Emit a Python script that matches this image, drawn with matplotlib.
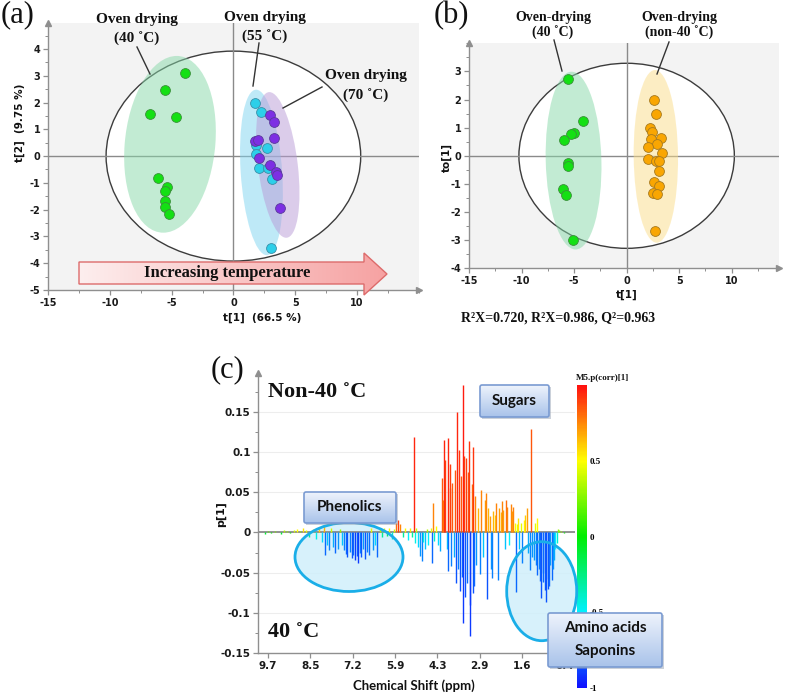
import numpy as np
import matplotlib
matplotlib.use("Agg")
import matplotlib.pyplot as plt
from matplotlib.patches import Ellipse, Circle, Polygon, FancyBboxPatch, Rectangle
from matplotlib.transforms import Affine2D
from matplotlib.colors import LinearSegmentedColormap, Normalize
from matplotlib.cm import ScalarMappable
from matplotlib.ticker import MultipleLocator, NullLocator

plt.rcParams['font.family'] = ['DejaVu Sans']
plt.rcParams['axes.unicode_minus'] = False

# ---------------- data: panel (a) PCA scores ----------------
t1_40 = [-3.88, -5.57, -6.75, -4.65, -6.12, -5.35, -5.55, -5.52, -5.50, -5.20]
t2_40 = [3.12, 2.45, 1.57, 1.47, -0.80, -1.15, -1.31, -1.66, -1.89, -2.18]
t1_55 = [1.75, 2.22, 1.81, 2.68, 1.86, 2.05, 2.81, 3.14, 3.07]
t2_55 = [2.00, 1.64, 0.40, 0.31, 0.06, -0.44, -0.44, -0.87, -3.42]
t1_70 = [2.97, 3.32, 1.73, 2.00, 3.30, 2.05, 2.95, 3.45, 3.50, 3.80]
t2_70 = [1.53, 1.29, 0.55, 0.61, 0.66, -0.06, -0.35, -0.61, -0.72, -1.93]
a_xticks = [-15, -10, -5, 0, 5, 10]
a_yticks = [-5, -4, -3, -2, -1, 0, 1, 2, 3, 4]

# ---------------- data: panel (b) OPLS-DA scores ----------------
b_t1_40 = [-5.56, -4.16, -5.02, -5.27, -5.94, -5.59, -5.56, -6.03, -5.78, -5.11]
b_to_40 = [2.74, 1.22, 0.82, 0.78, 0.56, -0.25, -0.36, -1.17, -1.41, -2.98]
b_t1_non40 = [2.57, 2.83, 2.22, 2.41, 2.29, 3.30, 2.86, 2.00, 3.40, 2.03,
              2.76, 3.11, 3.08, 2.60, 3.11, 2.54, 2.89, 2.70]
b_to_non40 = [2.00, 1.48, 1.00, 0.85, 0.60, 0.62, 0.43, 0.32, 0.09, -0.11,
              -0.17, -0.17, -0.55, -0.94, -1.06, -1.33, -1.35, -2.66]
b_xticks = [-15, -10, -5, 0, 5, 10]
b_yticks = [-4, -3, -2, -1, 0, 1, 2, 3]

# ---------------- data: panel (c) loading line p[1] ----------------
ppm_arom = [9.88, 9.79, 9.70, 9.61, 9.52, 9.43, 9.34, 9.25, 9.16, 9.07,
            8.98, 8.89, 8.80, 8.71, 8.62, 8.53, 8.43, 8.33, 8.24, 8.16,
            8.09, 8.06, 8.00, 7.93, 7.86, 7.81, 7.75, 7.67, 7.60, 7.53,
            7.46, 7.41, 7.37, 7.30, 7.24, 7.19, 7.14, 7.08, 7.03, 6.98,
            6.94, 6.88, 6.83, 6.77, 6.70, 6.64, 6.57, 6.51, 6.45, 6.38,
            6.30, 6.23, 6.16, 6.09, 6.01, 5.94, 5.86, 5.79, 5.72, 5.62,
            5.53, 5.43, 5.35]
p_arom = [0.001, -0.002, 0.002, -0.001, 0.002, 0.001, -0.002, 0.003, 0.002, -0.001,
          0.003, 0.004, 0.002, 0.005, 0.003, -0.005, 0.004, -0.008, 0.006, -0.012,
          0.008, -0.028, -0.015, -0.022, 0.005, -0.018, -0.026, -0.020, 0.004, -0.016,
          -0.022, -0.027, -0.030, -0.024, -0.032, -0.028, -0.034, -0.029, -0.038, -0.026,
          -0.030, -0.021, -0.033, -0.024, -0.028, 0.006, -0.022, -0.015, -0.030, 0.004,
          -0.006, 0.005, -0.004, 0.006, -0.008, 0.004, 0.012, 0.016, 0.010, -0.005,
          0.005, -0.009, 0.006]
corr_arom = [0.15, -0.1, 0.2, 0.0, 0.25, 0.1, -0.1, 0.35, 0.3, 0.0,
             0.4, 0.5, 0.3, 0.55, 0.45, -0.3, 0.5, -0.45, 0.6, -0.55,
             0.65, -0.8, -0.6, -0.75, 0.4, -0.65, -0.8, -0.7, 0.3, -0.6,
             -0.75, -0.8, -0.85, -0.75, -0.85, -0.8, -0.9, -0.8, -0.9, -0.75,
             -0.85, -0.7, -0.85, -0.75, -0.8, 0.45, -0.7, -0.55, -0.8, 0.35,
             -0.3, 0.45, -0.2, 0.5, -0.4, 0.4, 0.8, 0.9, 0.75, -0.3,
             0.5, -0.5, 0.55]

ppm_sugar = [5.26, 5.19, 5.15, 5.11, 5.05, 4.96, 4.89, 4.83, 4.77, 4.71,
             4.64, 4.56, 4.52, 4.48, 4.42, 4.35, 4.28, 4.22, 4.16, 4.12,
             4.08, 4.06, 4.00, 3.96, 3.94, 3.90, 3.87, 3.84, 3.81, 3.76,
             3.72, 3.70, 3.65, 3.62, 3.58, 3.55, 3.52, 3.49, 3.47, 3.45,
             3.41, 3.38, 3.36, 3.32, 3.29, 3.25, 3.23, 3.21, 3.16, 3.13,
             3.11, 3.09, 3.05, 3.01, 2.95, 2.89, 2.85, 2.80, 2.75, 2.70,
             2.69, 2.64]
p_sugar = [-0.006, 0.118, -0.013, 0.005, -0.018, -0.029, -0.035, -0.012, -0.021, 0.004,
           -0.015, 0.006, -0.038, 0.036, -0.010, 0.008, -0.016, -0.023, 0.068, 0.040,
           0.115, 0.090, -0.020, -0.048, 0.117, 0.055, 0.085, -0.042, 0.062, -0.030,
           0.078, -0.063, 0.150, -0.045, 0.102, -0.073, 0.070, -0.055, 0.183, -0.112,
           0.095, -0.080, 0.093, -0.063, 0.075, 0.113, -0.090, -0.128, 0.060, -0.075,
           0.106, -0.067, 0.045, -0.040, 0.030, -0.051, 0.053, -0.030, 0.040, 0.049,
           -0.083, 0.030]
corr_sugar = [-0.3, 0.95, -0.45, 0.4, -0.55, -0.7, -0.75, -0.45, -0.6, 0.35,
              -0.5, 0.45, -0.8, 0.75, -0.4, 0.5, -0.55, -0.65, 0.85, 0.75,
              0.95, 0.9, -0.6, -0.8, 0.95, 0.8, 0.9, -0.75, 0.85, -0.65,
              0.85, -0.85, 0.95, -0.75, 0.92, -0.85, 0.85, -0.8, 0.97, -0.9,
              0.9, -0.85, 0.9, -0.8, 0.85, 0.92, -0.85, -0.9, 0.8, -0.85,
              0.92, -0.8, 0.75, -0.7, 0.65, -0.75, 0.75, -0.6, 0.7, 0.75,
              -0.85, 0.65]

ppm_aliph = [2.58, 2.54, 2.51, 2.48, 2.44, 2.40, 2.35, 2.31, 2.26, 2.23,
             2.19, 2.14, 2.10, 2.05, 2.00, 1.95, 1.91, 1.87, 1.83, 1.79,
             1.75, 1.72, 1.68, 1.64, 1.61, 1.56, 1.52, 1.47, 1.43, 1.39,
             1.35, 1.31, 1.27, 1.24, 1.21, 1.18, 1.17, 1.12, 1.09, 1.06,
             1.02, 1.00, 0.96, 0.93, 0.91, 0.87, 0.83, 0.80, 0.76, 0.73,
             0.70, 0.66, 0.62, 0.58, 0.54, 0.50, 0.45, 0.42]
p_aliph = [0.020, -0.045, -0.057, 0.027, 0.022, 0.036, -0.059, 0.030, 0.025, 0.039,
           0.028, -0.020, 0.040, 0.032, -0.015, 0.035, 0.027, 0.032, 0.012, -0.074,
           0.010, 0.018, -0.020, 0.012, -0.038, 0.015, 0.022, 0.030, -0.025, -0.046,
           0.128, -0.030, -0.034, 0.012, -0.040, 0.018, -0.053, -0.045, -0.060, -0.081,
           -0.050, -0.062, -0.072, -0.058, -0.086, -0.070, -0.066, -0.040, -0.059, -0.045,
           -0.034, -0.020, -0.013, 0.004, 0.003, 0.002, 0.001, -0.001]
corr_aliph = [0.7, -0.7, -0.75, 0.65, 0.6, 0.75, -0.75, 0.7, 0.65, 0.75,
              0.7, -0.6, 0.8, 0.75, -0.5, 0.75, 0.7, 0.75, 0.5, -0.8,
              0.45, 0.55, -0.6, 0.45, -0.75, 0.5, 0.6, 0.7, -0.65, -0.75,
              0.85, -0.7, -0.7, 0.45, -0.75, 0.5, -0.8, -0.75, -0.8, -0.85,
              -0.75, -0.8, -0.85, -0.8, -0.85, -0.85, -0.8, -0.7, -0.8, -0.7,
              -0.65, -0.5, -0.4, 0.3, 0.25, 0.3, 0.15, 0.0]

c_xtick_ppm = [9.7, 8.5, 7.2, 5.9, 4.3, 2.9, 1.6, 0.4]
c_xtick_labels = ['9.7', '8.5', '7.2', '5.9', '4.3', '2.9', '1.6', '0.4']
c_yticks = [-0.15, -0.1, -0.05, 0, 0.05, 0.1, 0.15]
c_ytick_labels = ['-0.15', '-0.1', '-0.05', '0', '0.05', '0.1', '0.15']
cb_ticks = [-1, -0.5, 0, 0.5]
cb_labels = ['-1', '-0.5', '0', '0.5']

# ---------------- figure ----------------
W, H = 787, 696
fig = plt.figure(figsize=(W / 100, H / 100), dpi=100)

def box_px(l, t, r, b):
    return [l / W, 1 - b / H, (r - l) / W, (b - t) / H]

AXC = '#8f8f8f'
SERIF = ['Liberation Serif', 'DejaVu Serif']
BOXF = ['Lato', 'DejaVu Sans']

def simca(ax):
    for s in ('top', 'right'):
        ax.spines[s].set_visible(False)
    for s in ('left', 'bottom'):
        ax.spines[s].set_color(AXC)
        ax.spines[s].set_linewidth(1.0)
        ax.spines[s].set_zorder(5)
    ax.plot([1], [0], marker='>', ms=5, color=AXC, transform=ax.transAxes, clip_on=False, zorder=6)
    ax.plot([0], [1], marker='^', ms=5, color=AXC, transform=ax.transAxes, clip_on=False, zorder=6)
    ax.tick_params(which='major', direction='out', length=3.5, width=0.9, color=AXC,
                   labelsize=7, labelcolor='#1a1a1a', pad=2)
    ax.tick_params(which='minor', direction='out', length=2, width=0.7, color=AXC)

def cluster(ax, c, half_major, half_w, color, alpha):
    tr = Affine2D.from_values(half_w, 0, half_major[0], half_major[1], c[0], c[1]) + ax.transData
    ax.add_patch(Circle((0, 0), 1, transform=tr, facecolor=color, alpha=alpha,
                        edgecolor='none', zorder=2))

def ticks(ax, xt, yt):
    ax.set_xticks(xt, [str(v) for v in xt], fontweight='bold')
    ax.set_yticks(yt, [str(v) for v in yt], fontweight='bold')
    ax.xaxis.set_minor_locator(MultipleLocator(2.5))
    ax.yaxis.set_minor_locator(MultipleLocator(0.5))

# overlay (pixel coordinates) for annotations
ax_o = fig.add_axes([0, 0, 1, 1], zorder=10)
ax_o.set_facecolor('none')
ax_o.axis('off')

# ---------- panel (a) ----------
axA = fig.add_axes(box_px(48, 23, 418.8, 290))
axA.set_facecolor('#f3f3f3')
simca(axA)
axA.add_patch(Ellipse((0, 0), 2 * 10.3, 2 * 3.92, facecolor='white', edgecolor='#3c3c3c', lw=1.0, zorder=1))
axA.axhline(0, color='#8a8a8a', lw=1.0, zorder=1.5)
axA.axvline(0, color='#8a8a8a', lw=1.0, zorder=1.5)
cluster(axA, (-5.13, 0.44), (0.54, 3.30), 3.67, '#87d9a9', 0.5)
cluster(axA, (2.27, -0.61), (-0.43, 3.09), 1.68, '#7fd5f1', 0.5)
cluster(axA, (3.59, -0.33), (-0.68, 2.72), 1.62, '#b99bd7', 0.5)
axA.scatter(t1_40, t2_40, s=50, c='#14e014', edgecolors='#3b8f3b', linewidths=0.6, zorder=4)
axA.scatter(t1_55, t2_55, s=50, c='#2dcfe9', edgecolors='#3a8fa8', linewidths=0.6, zorder=4)
axA.scatter(t1_70, t2_70, s=50, c='#7d2fe3', edgecolors='#5a3a9a', linewidths=0.6, zorder=4.1)
axA.set_xlim(-15, 15)
axA.set_ylim(-5, 4.97)
ticks(axA, a_xticks, a_yticks)

# ---------- panel (b) ----------
axB = fig.add_axes(box_px(469, 43.3, 779, 268.3))
axB.set_facecolor('#f3f3f3')
simca(axB)
axB.add_patch(Ellipse((0, 0), 2 * 10.25, 2 * 3.29, facecolor='white', edgecolor='#3c3c3c', lw=1.0, zorder=1))
axB.axhline(0, color='#8a8a8a', lw=1.0, zorder=1.5)
axB.axvline(0, color='#8a8a8a', lw=1.0, zorder=1.5)
cluster(axB, (-5.05, -0.17), (-0.19, 3.16), 2.65, '#87d9a9', 0.5)
cluster(axB, (2.78, -0.02), (-0.08, 3.07), 2.11, '#fbdd89', 0.5)
axB.scatter(b_t1_40, b_to_40, s=50, c='#14e014', edgecolors='#3b8f3b', linewidths=0.6, zorder=4)
axB.scatter(b_t1_non40, b_to_non40, s=50, c='#f9a602', edgecolors='#a67a20', linewidths=0.6, zorder=4)
axB.set_xlim(-15, 14.5)
axB.set_ylim(-4, 4.0)
ticks(axB, b_xticks, b_yticks)

# ---------- panel (c) ----------
# axis positions are evenly spaced between the labelled chemical shifts
knot_ppm_asc = np.array([-0.8] + c_xtick_ppm[::-1] + [10.9])
knot_pos_asc = -np.arange(len(c_xtick_ppm), -2, -1, dtype=float)

def fwd(x):
    return np.interp(np.asarray(x, dtype=float), knot_ppm_asc, knot_pos_asc)

def inv(y):
    return np.interp(np.asarray(y, dtype=float), knot_pos_asc, knot_ppm_asc)

cmap = LinearSegmentedColormap.from_list(
    'pcorr', [(0, '#1010ff'), (0.25, '#00f0ff'), (0.5, '#00ee00'), (0.75, '#ffff00'), (1, '#ff1010')])
norm = Normalize(-1, 1)

axC = fig.add_axes(box_px(258.3, 373, 575, 653.3))
axC.set_facecolor('white')
simca(axC)
axC.set_xscale('function', functions=(fwd, inv))
axC.set_xlim(9.98, 0.1)
axC.set_ylim(-0.15, 0.198)
axC.set_xticks(c_xtick_ppm, c_xtick_labels, fontweight='bold')
axC.set_yticks(c_yticks, c_ytick_labels, fontweight='bold')
axC.xaxis.set_minor_locator(NullLocator())
axC.yaxis.set_minor_locator(MultipleLocator(0.025))
axC.tick_params(axis='both', which='major', labelsize=7.5)
axC.yaxis.grid(True, color='#ededed', lw=0.8)
axC.set_axisbelow(True)
axC.axhline(0, color='#8a8a8a', lw=1.3, zorder=1.5)

for ppm, pv, cv in ((ppm_arom, p_arom, corr_arom), (ppm_sugar, p_sugar, corr_sugar),
                    (ppm_aliph, p_aliph, corr_aliph)):
    axC.vlines(ppm, 0, pv, colors=cmap(norm(np.array(cv))), lw=1.0, zorder=2)

# ellipses marking regions (fill below lines, outline above)
for (cx, cy, ew, eh) in [(349, 557, 108, 69), (541.7, 591.2, 70, 99)]:
    axC.add_patch(Ellipse((cx, cy), ew, eh, transform=ax_o.transData, facecolor='#d0effb',
                          alpha=0.85, edgecolor='none', zorder=1.2, clip_on=False))
    ax_o.add_patch(Ellipse((cx, cy), ew, eh, facecolor='none', edgecolor='#1aaee8', lw=2.0, zorder=11))

# colorbar
cax = fig.add_axes(box_px(576.7, 385, 586.7, 688))
cb = fig.colorbar(ScalarMappable(norm=norm, cmap=cmap), cax=cax)
cb.outline.set_visible(False)
cb.set_ticks(cb_ticks)
cb.set_ticklabels(cb_labels)
cax.tick_params(length=0, pad=2, labelsize=6.5)
for t in cax.get_yticklabels():
    t.set_fontfamily(SERIF)
    t.set_fontweight('bold')

# ---------- overlay annotations ----------
def txt(x, y, s, size, family=SERIF, weight='bold', ha='center', va='center', rot=0, z=15):
    ax_o.text(x, y, s, fontsize=size, family=family, fontweight=weight, ha=ha, va=va,
              rotation=rot, zorder=z, color='#111111')

def leader(x0, y0, x1, y1):
    ax_o.plot([x0, x1], [y0, y1], color='#333333', lw=1.0, zorder=12)

# panel labels
txt(1, 15, '(a)', 22, weight='normal', ha='left')
txt(434, 16, '(b)', 22, weight='normal', ha='left')
txt(211, 370, '(c)', 22, weight='normal', ha='left')

# panel (a) group labels
txt(137, 19, 'Oven drying', 11); txt(137, 39, '(40 ˚C)', 11)
txt(265, 17, 'Oven drying', 11); txt(265, 37, '(55 ˚C)', 11)
txt(366, 76, 'Oven drying', 11); txt(366, 96, '(70 ˚C)', 11)
leader(137, 47, 150, 74)
leader(259, 43, 253, 86)
leader(322, 87, 283, 108)
txt(20, 123, 't[2]  (9.75 %)', 7.5, family=['DejaVu Sans'], rot=90)
txt(262, 318, 't[1]  (66.5 %)', 7.5, family=['DejaVu Sans'])

# increasing temperature arrow
arrow_pts = [(79, 262), (364, 262), (364, 253), (387, 274), (364, 295), (364, 284), (79, 284)]
arrow = Polygon(arrow_pts, closed=True, facecolor='none', edgecolor='#dd6b6b', lw=1.0, zorder=12)
ax_o.add_patch(arrow)
acmap = LinearSegmentedColormap.from_list('ar', ['#fdeeee', '#f6a2a2'])
im = ax_o.imshow(np.linspace(0, 1, 256).reshape(1, -1), extent=[79, 387, 295, 253], cmap=acmap,
                 aspect='auto', zorder=11, interpolation='bilinear')
im.set_clip_path(arrow)
txt(227, 273, 'Increasing temperature', 12)

# panel (b) labels
txt(553, 17, 'Oven-drying', 10); txt(553, 33, '(40 ˚C)', 10)
txt(679, 17, 'Oven-drying', 10); txt(679, 33, '(non-40 ˚C)', 10)
leader(554, 40, 562, 71)
leader(669, 42, 657, 74)
txt(447, 157, 'to[1]', 7.5, family=['DejaVu Sans'], rot=90)
txt(627, 295, 't[1]', 7.5, family=['DejaVu Sans'])
txt(558, 318, 'R²X=0.720, R²X=0.986, Q²=0.963', 10)

# panel (c) labels
txt(268, 392, 'Non-40 ˚C', 16, ha='left')
txt(268, 632, '40 ˚C', 16, ha='left')
txt(221, 514, 'p[1]', 8, family=['DejaVu Sans'], rot=90)
txt(414, 686, 'Chemical Shift (ppm)', 9.5, family=BOXF)
txt(576, 378, 'M5.p(corr)[1]', 6.5, ha='left')

bcmap = LinearSegmentedColormap.from_list('bx', ['#eef3fc', '#a9c3ea'])

def grad_box(x0, y0, x1, y1, lines, cys):
    ax_o.add_patch(Rectangle((x0 + 2, y0 + 2), x1 - x0, y1 - y0, facecolor='#8d99ad', alpha=0.45,
                             edgecolor='none', zorder=12.5))
    bx = FancyBboxPatch((x0, y0), x1 - x0, y1 - y0, boxstyle='round,pad=0,rounding_size=2',
                        facecolor='none', edgecolor='#7a9bd2', lw=1.2, zorder=14)
    ax_o.add_patch(bx)
    gi = ax_o.imshow(np.linspace(0, 1, 64).reshape(-1, 1), extent=[x0, x1, y1, y0], cmap=bcmap,
                     aspect='auto', zorder=13, interpolation='bilinear')
    gi.set_clip_path(bx)
    for s, cy in zip(lines, cys):
        txt((x0 + x1) / 2, cy, s, 11, family=BOXF)

grad_box(480, 385, 549, 417, ['Sugars'], [401])
grad_box(304, 492, 396, 523, ['Phenolics'], [507])
grad_box(548, 613, 662, 667, ['Amino acids', 'Saponins'], [628, 651])

ax_o.set_xlim(0, W)
ax_o.set_ylim(H, 0)

fig.savefig('out.png', dpi=100)
